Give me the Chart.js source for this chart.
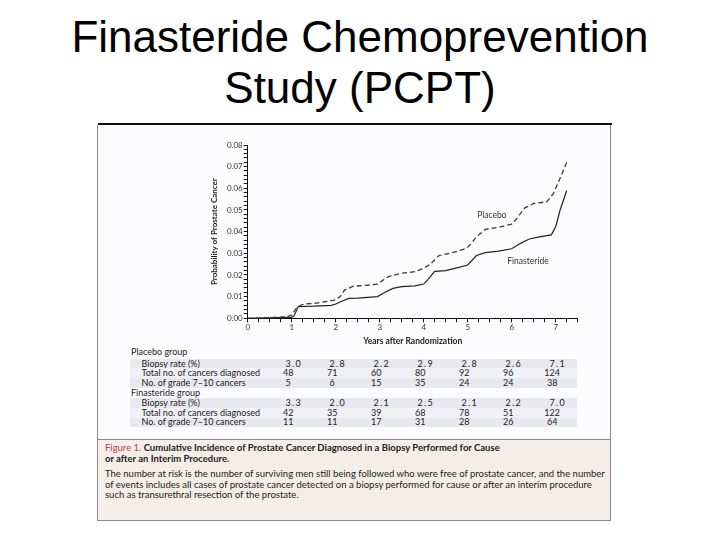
<!DOCTYPE html>
<html>
<head>
<meta charset="utf-8">
<script src="https://cdn.jsdelivr.net/npm/chart.js@4.4.1/dist/chart.umd.min.js"></script>
<style>
  html, body { margin:0; padding:0; background:#fff; }
  body { width:720px; height:540px; position:relative; overflow:hidden; }
  #title { position:absolute; left:0; top:12px; width:720px; text-align:center;
    font-family:"Liberation Sans", Arial, sans-serif; font-size:44px; line-height:50.5px; color:#000; }
  #rule { position:absolute; left:98px; top:123px; width:514px; height:2px; background:#111; }
  #frame { position:absolute; left:97px; top:125px; width:512px; height:394px;
    border-left:1px solid #888; border-right:1px solid #888; background:#fcfbfd; }
  #chartBox { position:absolute; left:204px; top:135px; width:396px; height:211px; }
  #table { position:absolute; left:0; top:0; font-family:Lato, "Noto Sans", sans-serif; font-size:9px; color:#222; }
  .band { position:absolute; left:130px; width:447px; height:9.6px; }
  .cell { position:absolute; white-space:nowrap; line-height:10px; }
  .rate { letter-spacing:1.3px; }
  #caption { position:absolute; left:97px; top:439px; width:512px; height:80px;
    border:1px solid #888; background:#f5eee8; font-family:Lato, "Noto Sans", sans-serif; color:#222; }
  #caption .head { position:absolute; left:7px; top:3px; font-size:9.5px; font-weight:bold; line-height:10.8px; white-space:nowrap; }
  #caption .head span { color:#c0393b; font-weight:normal; }
  #caption .body { position:absolute; left:7px; top:29px; font-size:9.5px; line-height:10.7px; white-space:nowrap; }
</style>
</head>
<body>
<div id="title">Finasteride Chemoprevention<br>Study (PCPT)</div>
<div id="rule"></div>
<div id="frame"></div>
<div id="chartBox"><canvas id="pcptChart" width="396" height="211"></canvas></div>
<div id="table"></div>
<div id="caption">
  <div class="head"><span>Figure 1.</span> Cumulative Incidence of Prostate Cancer Diagnosed in a Biopsy Performed for Cause<br>or after an Interim Procedure.</div>
  <div class="body">The number at risk is the number of surviving men still being followed who were free of prostate cancer, and the number<br>of events includes all cases of prostate cancer detected on a biopsy performed for cause or after an interim procedure<br>such as transurethral resection of the prostate.</div>
</div>

<script>
// =======================
// DATA
// =======================
const placeboYears = [0, 0.5, 0.9, 1.0, 1.1, 1.2, 1.3, 1.5, 1.8, 2.0, 2.1, 2.2, 2.4, 2.7, 2.95, 3.1, 3.2, 3.5, 3.8, 4.0, 4.15, 4.35, 4.6, 4.9, 5.0, 5.1, 5.2, 5.4, 5.7, 6.0, 6.1, 6.3, 6.5, 6.8, 6.95, 7.1, 7.25];
const placeboProb  = [0, 0.0003, 0.0008, 0.0014, 0.0046, 0.006, 0.0067, 0.0068, 0.0078, 0.0085, 0.010, 0.013, 0.0148, 0.0152, 0.0158, 0.018, 0.0192, 0.0208, 0.0215, 0.023, 0.025, 0.029, 0.030, 0.0318, 0.0328, 0.035, 0.0377, 0.041, 0.042, 0.0435, 0.0457, 0.051, 0.053, 0.0538, 0.0577, 0.0646, 0.072];

const finYears = [0, 0.5, 1.0, 1.05, 1.15, 1.3, 1.5, 1.9, 2.0, 2.15, 2.3, 2.5, 2.95, 3.1, 3.3, 3.5, 3.8, 4.0, 4.1, 4.25, 4.5, 4.8, 5.0, 5.2, 5.4, 5.7, 6.0, 6.2, 6.4, 6.6, 6.9, 7.0, 7.1, 7.25];
const finProb  = [0, 0.0002, 0.0004, 0.001, 0.0054, 0.0055, 0.0056, 0.006, 0.0066, 0.008, 0.0092, 0.0093, 0.010, 0.0118, 0.0138, 0.0146, 0.015, 0.0158, 0.018, 0.0217, 0.022, 0.0235, 0.0246, 0.029, 0.0303, 0.031, 0.0321, 0.0346, 0.0366, 0.0375, 0.0385, 0.0423, 0.050, 0.059];

// number-at-risk table, one column per year
const tableYears = [1, 2, 3, 4, 5, 6, 7];
const placeboBiopsy = ['3.0', '2.8', '2.2', '2.9', '2.8', '2.6', '7.1'];
const placeboTotal  = [48, 71, 60, 80, 92, 96, 124];
const placeboGrade  = [5, 6, 15, 35, 24, 24, 38];
const finBiopsy = ['3.3', '2.0', '2.1', '2.5', '2.1', '2.2', '7.0'];
const finTotal  = [42, 35, 39, 68, 78, 51, 122];
const finGrade  = [11, 11, 17, 31, 28, 26, 64];

const curveNames = ['Placebo', 'Finasteride'];

const toPoints = (xs, ys) => xs.map((x, i) => ({ x: x, y: ys[i] }));

// =======================
// CURVE LABELS
// =======================
const curveLabels = {
  id: 'curveLabels',
  afterDatasetsDraw(chart) {
    const { ctx, scales: { x, y } } = chart;
    const spots = [[5.55, 0.0477], [6.37, 0.0264]];
    ctx.save();
    ctx.font = '8.5px Lato, "Noto Sans", sans-serif';
    ctx.fillStyle = '#333';
    ctx.textAlign = 'center';
    ctx.textBaseline = 'middle';
    curveNames.forEach((name, i) => {
      ctx.fillText(name, x.getPixelForValue(spots[i][0]), y.getPixelForValue(spots[i][1]));
    });
    ctx.restore();
  }
};

// =======================
// CHART
// =======================
const tickFont = { family: 'Lato, "Noto Sans", sans-serif', size: 8 };

const chart = new Chart(document.getElementById('pcptChart').getContext('2d'), {
  type: 'line',
  data: {
    datasets: [
      { label: curveNames[0], data: toPoints(placeboYears, placeboProb), borderColor: '#3a3a3a', borderWidth: 1.3, borderDash: [5, 3], pointRadius: 0, tension: 0 },
      { label: curveNames[1], data: toPoints(finYears, finProb), borderColor: '#222', borderWidth: 1.2, pointRadius: 0, tension: 0 }
    ]
  },
  options: {
    responsive: false,
    animation: false,
    layout: { padding: { top: 10, right: 22.3, bottom: 0, left: 0 } },
    plugins: { legend: { display: false }, tooltip: { enabled: false } },
    scales: {
      x: {
        type: 'linear', min: 0, max: 7.5,
        border: { color: '#111', width: 1 },
        grid: { drawOnChartArea: false, tickLength: 4, color: '#111' },
        ticks: {
          stepSize: 0.25, autoSkip: false, maxRotation: 0, padding: 0,
          font: tickFont, color: '#333',
          callback: v => Number.isInteger(v) ? String(v) : ''
        },
        title: { display: true, text: 'Years after Randomization', color: '#222',
          font: { family: 'Lato, "Noto Sans", sans-serif', size: 8.5, weight: 'bold' }, padding: { top: 0, bottom: 0 } },
        afterFit: s => { s.height = 27.7; }
      },
      y: {
        min: 0, max: 0.08,
        border: { color: '#111', width: 1 },
        grid: { drawOnChartArea: false, tickLength: 4, color: '#111' },
        ticks: {
          stepSize: 0.002, autoSkip: false, padding: 1,
          font: tickFont, color: '#333',
          callback: v => Math.abs(v * 100 - Math.round(v * 100)) < 1e-6 ? v.toFixed(2) : ''
        },
        title: { display: true, text: 'Probability of Prostate Cancer', color: '#222',
          font: { family: 'Lato, "Noto Sans", sans-serif', size: 8, weight: 'bold' }, padding: { top: 6, bottom: 0 } },
        afterFit: s => { s.width = 43.7; }
      }
    }
  },
  plugins: [curveLabels]
});

// =======================
// RISK TABLE (columns follow the x scale)
// =======================
function renderTable() {
  const table = document.getElementById('table');
  const xs = chart.scales.x;
  const boxLeft = 204;
  const colX = tableYears.map(yr => boxLeft + xs.getPixelForValue(yr));

  const addCell = (text, left, top, center, cls) => {
    const d = document.createElement('div');
    d.className = 'cell' + (cls ? ' ' + cls : '');
    d.textContent = text;
    d.style.top = (top - 5) + 'px';
    d.style.left = left + 'px';
    if (center) d.style.transform = 'translateX(-50%)';
    table.appendChild(d);
  };
  const addBand = (top, color) => {
    const b = document.createElement('div');
    b.className = 'band';
    b.style.top = (top - 4.8) + 'px';
    b.style.background = color;
    table.appendChild(b);
  };

  const groups = [
    { name: 'Placebo group', y: 352.3, rows: [placeboBiopsy, placeboTotal, placeboGrade], rowY: [363.6, 373.2, 382.8] },
    { name: 'Finasteride group', y: 393.3, rows: [finBiopsy, finTotal, finGrade], rowY: [403.2, 412.8, 422.4] }
  ];
  const rowNames = ['Biopsy rate (%)', 'Total no. of cancers diagnosed', 'No. of grade 7\u201310 cancers'];
  const bandColors = ['#e7e9ef', '#f1f1f5', '#e7e9ef'];

  groups.forEach(g => {
    addCell(g.name, 131, g.y, false);
    g.rows.forEach((vals, r) => {
      addBand(g.rowY[r], bandColors[r]);
      addCell(rowNames[r], 141.5, g.rowY[r], false);
      vals.forEach((v, c) => {
        addCell(String(v), colX[c] + (r === 0 ? 2 : -3.5), g.rowY[r], true, r === 0 ? 'rate' : '');
      });
    });
  });
}
renderTable();
</script>
</body>
</html>
